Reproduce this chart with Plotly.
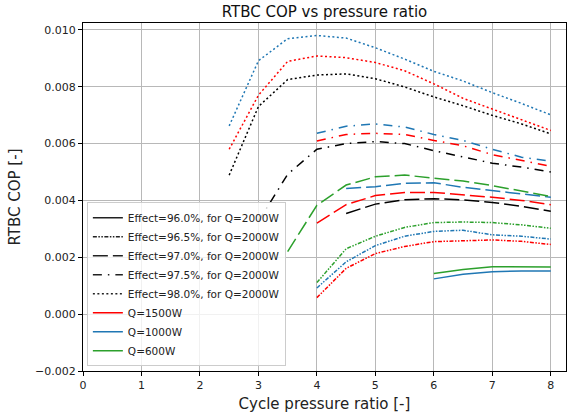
import plotly.graph_objects as go

# ---------------- data ----------------
x_full = [2.5, 3.0, 3.5, 4.0, 4.5, 5.0, 5.5, 6.0, 6.5, 7.0, 7.5, 8.0]
x_from3 = [3.0, 3.5, 4.0, 4.5, 5.0, 5.5, 6.0, 6.5, 7.0, 7.5, 8.0]
x_from35 = [3.5, 4.0, 4.5, 5.0, 5.5, 6.0, 6.5, 7.0, 7.5, 8.0]
x_from4 = [4.0, 4.5, 5.0, 5.5, 6.0, 6.5, 7.0, 7.5, 8.0]
x_from45 = [4.5, 5.0, 5.5, 6.0, 6.5, 7.0, 7.5, 8.0]
x_from6 = [6.0, 6.5, 7.0, 7.5, 8.0]

# Q = 2000 W (black)
q2000_e980 = [0.00489, 0.00730, 0.00825, 0.00841, 0.00845, 0.00828, 0.00799, 0.00764, 0.00733, 0.00699, 0.00669, 0.00634]
q2000_e975 = [0.00326, 0.00492, 0.00580, 0.00600, 0.00607, 0.00600, 0.00575, 0.00554, 0.00531, 0.00517, 0.00500]
q2000_e970 = [0.00354, 0.00387, 0.00402, 0.00406, 0.00402, 0.00393, 0.00379, 0.00362]

# Q = 1500 W (red)
q1500_e980 = [0.00580, 0.00770, 0.00889, 0.00908, 0.00902, 0.00885, 0.00856, 0.00810, 0.00759, 0.00722, 0.00684, 0.00646]
q1500_e975 = [0.00609, 0.00632, 0.00636, 0.00632, 0.00611, 0.00592, 0.00561, 0.00540, 0.00520]
q1500_e970 = [0.00320, 0.00385, 0.00417, 0.00428, 0.00428, 0.00420, 0.00411, 0.00400, 0.00385]
q1500_e965 = [0.00058, 0.00161, 0.00213, 0.00238, 0.00255, 0.00259, 0.00261, 0.00256, 0.00245]

# Q = 1000 W (blue)
q1000_e980 = [0.00662, 0.00891, 0.00969, 0.00980, 0.00971, 0.00937, 0.00897, 0.00854, 0.00820, 0.00779, 0.00741, 0.00701]
q1000_e975 = [0.00636, 0.00661, 0.00669, 0.00658, 0.00632, 0.00611, 0.00580, 0.00552, 0.00538]
q1000_e970 = [0.00442, 0.00448, 0.00460, 0.00462, 0.00446, 0.00434, 0.00423, 0.00411]
q1000_e965 = [0.00092, 0.00184, 0.00241, 0.00274, 0.00291, 0.00295, 0.00279, 0.00274, 0.00264]
q1000_e960 = [0.00124, 0.00140, 0.00149, 0.00152, 0.00152]

# Q = 600 W (green)
q600_e970 = [0.00220, 0.00383, 0.00454, 0.00483, 0.00489, 0.00479, 0.00468, 0.00452, 0.00434, 0.00414]
q600_e965 = [0.00111, 0.00230, 0.00274, 0.00305, 0.00322, 0.00324, 0.00322, 0.00314, 0.00302]
q600_e960 = [0.00143, 0.00157, 0.00167, 0.00167, 0.00166]

effect_labels = ["Effect=96.0%, for Q=2000W", "Effect=96.5%, for Q=2000W",
                 "Effect=97.0%, for Q=2000W", "Effect=97.5%, for Q=2000W",
                 "Effect=98.0%, for Q=2000W"]
q_labels = ["Q=1500W", "Q=1000W", "Q=600W"]

# ---------------- styles ----------------
BLACK = "#000000"
RED = "#ff0000"
BLUE = "#1f77b4"
GREEN = "#2ca02c"
DASH = {
    "96.0": "solid",
    "96.5": "4px,1.5px,1.5px,1.5px,1.5px,1.5px",
    "97.0": "15px,5px",
    "97.5": "9px,6px,1.5px,6px",
    "98.0": "2px,2.5px",
}
LW = 1.5

series = [
    (x_full, q2000_e980, BLACK, "98.0"),
    (x_from3, q2000_e975, BLACK, "97.5"),
    (x_from45, q2000_e970, BLACK, "97.0"),
    (x_full, q1500_e980, RED, "98.0"),
    (x_from4, q1500_e975, RED, "97.5"),
    (x_from4, q1500_e970, RED, "97.0"),
    (x_from4, q1500_e965, RED, "96.5"),
    (x_full, q1000_e980, BLUE, "98.0"),
    (x_from4, q1000_e975, BLUE, "97.5"),
    (x_from45, q1000_e970, BLUE, "97.0"),
    (x_from4, q1000_e965, BLUE, "96.5"),
    (x_from6, q1000_e960, BLUE, "96.0"),
    (x_from35, q600_e970, GREEN, "97.0"),
    (x_from4, q600_e965, GREEN, "96.5"),
    (x_from6, q600_e960, GREEN, "96.0"),
]

fig = go.Figure()
for xs, ys, col, eff in series:
    fig.add_trace(go.Scatter(x=xs, y=ys, mode="lines", showlegend=False,
                             line=dict(color=col, width=LW, dash=DASH[eff]),
                             hoverinfo="skip"))

# legend entries
for lab, eff in zip(effect_labels, ["96.0", "96.5", "97.0", "97.5", "98.0"]):
    fig.add_trace(go.Scatter(x=[None], y=[None], mode="lines", name=lab,
                             line=dict(color="#222222", width=LW, dash=DASH[eff])))
for lab, col in zip(q_labels, [RED, BLUE, GREEN]):
    fig.add_trace(go.Scatter(x=[None], y=[None], mode="lines", name=lab,
                             line=dict(color=col, width=LW)))

FONT = "DejaVu Sans"
axis_common = dict(
    showline=True, linecolor="black", linewidth=1, mirror=True,
    ticks="outside", ticklen=4, tickcolor="black", tickwidth=1,
    showgrid=True, gridcolor="#b8b8b8", gridwidth=0.8,
    zeroline=False, tickfont=dict(family=FONT, size=11, color="#222222"),
)

fig.update_layout(
    width=576, height=419, autosize=False,
    margin=dict(l=83, r=9, t=23, b=42),
    paper_bgcolor="white", plot_bgcolor="white",
    font=dict(family=FONT, color="#222222"),
    title=dict(text="RTBC COP vs pressure ratio", x=0.5, xref="paper",
               y=1 - 12 / 419, yref="container", yanchor="middle", xanchor="center",
               font=dict(family=FONT, size=15, color="#111111")),
    xaxis=dict(range=[0, 8.26], dtick=1, tick0=0,
               title=dict(text="Cycle pressure ratio [-]", standoff=7,
                          font=dict(family=FONT, size=15, color="#222222")),
               **axis_common),
    yaxis=dict(range=[-0.002, 0.01024], dtick=0.002, tick0=0, tickformat=".3f",
               title=dict(text="RTBC COP [-]", standoff=10,
                          font=dict(family=FONT, size=15, color="#222222")),
               **axis_common),
    legend=dict(x=0.008, y=0.014, xanchor="left", yanchor="bottom",
                bgcolor="rgba(255,255,255,0.8)", bordercolor="#cccccc", borderwidth=1,
                font=dict(family=FONT, size=10.5, color="#222222"),
                tracegroupgap=0),
    showlegend=True,
)

fig.write_html("out.html")
